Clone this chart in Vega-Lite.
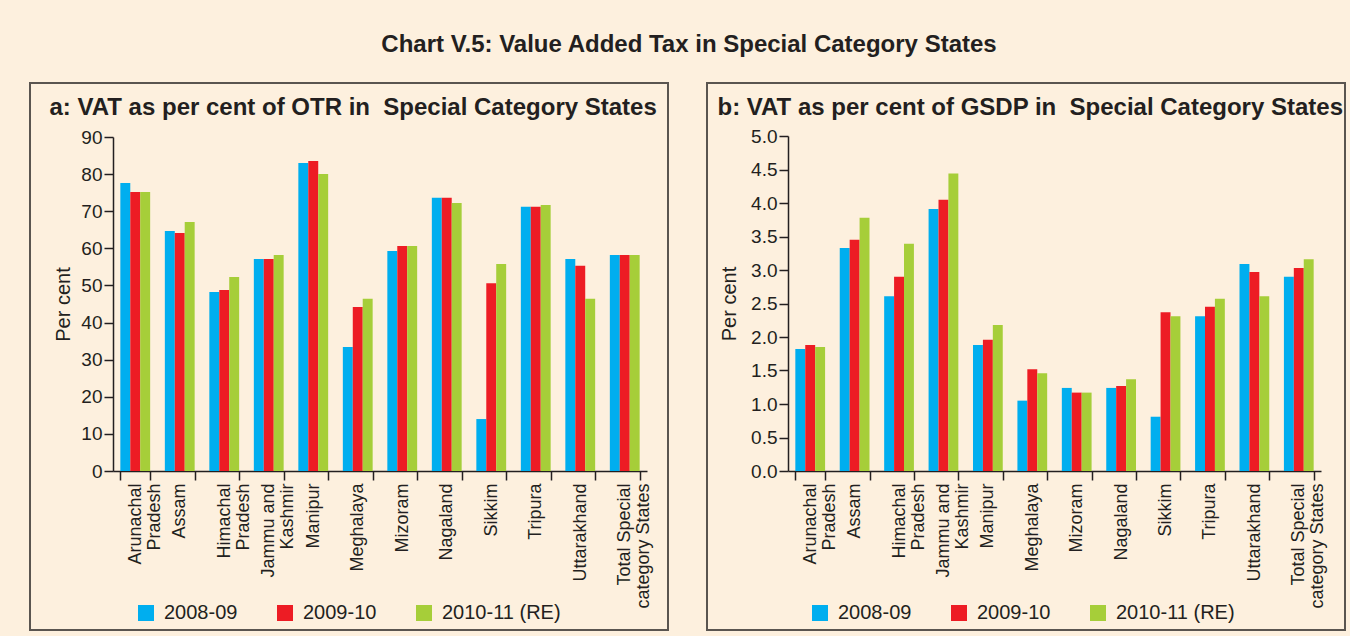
{
  "$schema": "https://vega.github.io/schema/vega-lite/v6.json",
  "background": "#fdf0de",
  "padding": {"left": 20, "top": 33, "right": 6, "bottom": 5},
  "title": {"text": "Chart V.5: Value Added Tax in Special Category States", "anchor": "middle", "dx": 6, "fontSize": 24, "fontWeight": "bold", "color": "#231f20", "baseline": "alphabetic", "offset": 6},
  "datasets": {
    "otr": [
      {"s": "Arunachal|Pradesh", "yr": "2008-09", "v": 77.6},
      {"s": "Arunachal|Pradesh", "yr": "2009-10", "v": 75.2},
      {"s": "Arunachal|Pradesh", "yr": "2010-11 (RE)", "v": 75.2},
      {"s": "Assam", "yr": "2008-09", "v": 64.7},
      {"s": "Assam", "yr": "2009-10", "v": 64.1},
      {"s": "Assam", "yr": "2010-11 (RE)", "v": 67.1},
      {"s": "Himachal|Pradesh", "yr": "2008-09", "v": 48.2},
      {"s": "Himachal|Pradesh", "yr": "2009-10", "v": 48.8},
      {"s": "Himachal|Pradesh", "yr": "2010-11 (RE)", "v": 52.3},
      {"s": "Jammu and|Kashmir", "yr": "2008-09", "v": 57.1},
      {"s": "Jammu and|Kashmir", "yr": "2009-10", "v": 57.1},
      {"s": "Jammu and|Kashmir", "yr": "2010-11 (RE)", "v": 58.2},
      {"s": "Manipur", "yr": "2008-09", "v": 83.0},
      {"s": "Manipur", "yr": "2009-10", "v": 83.5},
      {"s": "Manipur", "yr": "2010-11 (RE)", "v": 80.0},
      {"s": "Meghalaya", "yr": "2008-09", "v": 33.4},
      {"s": "Meghalaya", "yr": "2009-10", "v": 44.2},
      {"s": "Meghalaya", "yr": "2010-11 (RE)", "v": 46.4},
      {"s": "Mizoram", "yr": "2008-09", "v": 59.3},
      {"s": "Mizoram", "yr": "2009-10", "v": 60.6},
      {"s": "Mizoram", "yr": "2010-11 (RE)", "v": 60.6},
      {"s": "Nagaland", "yr": "2008-09", "v": 73.6},
      {"s": "Nagaland", "yr": "2009-10", "v": 73.6},
      {"s": "Nagaland", "yr": "2010-11 (RE)", "v": 72.2},
      {"s": "Sikkim", "yr": "2008-09", "v": 14.0},
      {"s": "Sikkim", "yr": "2009-10", "v": 50.6},
      {"s": "Sikkim", "yr": "2010-11 (RE)", "v": 55.8},
      {"s": "Tripura", "yr": "2008-09", "v": 71.2},
      {"s": "Tripura", "yr": "2009-10", "v": 71.2},
      {"s": "Tripura", "yr": "2010-11 (RE)", "v": 71.7},
      {"s": "Uttarakhand", "yr": "2008-09", "v": 57.1},
      {"s": "Uttarakhand", "yr": "2009-10", "v": 55.3},
      {"s": "Uttarakhand", "yr": "2010-11 (RE)", "v": 46.4},
      {"s": "Total Special|category States", "yr": "2008-09", "v": 58.2},
      {"s": "Total Special|category States", "yr": "2009-10", "v": 58.2},
      {"s": "Total Special|category States", "yr": "2010-11 (RE)", "v": 58.2}
    ],
    "gsdp": [
      {"s": "Arunachal|Pradesh", "yr": "2008-09", "v": 1.82},
      {"s": "Arunachal|Pradesh", "yr": "2009-10", "v": 1.88},
      {"s": "Arunachal|Pradesh", "yr": "2010-11 (RE)", "v": 1.85},
      {"s": "Assam", "yr": "2008-09", "v": 3.33},
      {"s": "Assam", "yr": "2009-10", "v": 3.45},
      {"s": "Assam", "yr": "2010-11 (RE)", "v": 3.78},
      {"s": "Himachal|Pradesh", "yr": "2008-09", "v": 2.61},
      {"s": "Himachal|Pradesh", "yr": "2009-10", "v": 2.90},
      {"s": "Himachal|Pradesh", "yr": "2010-11 (RE)", "v": 3.39},
      {"s": "Jammu and|Kashmir", "yr": "2008-09", "v": 3.91},
      {"s": "Jammu and|Kashmir", "yr": "2009-10", "v": 4.05},
      {"s": "Jammu and|Kashmir", "yr": "2010-11 (RE)", "v": 4.44},
      {"s": "Manipur", "yr": "2008-09", "v": 1.88},
      {"s": "Manipur", "yr": "2009-10", "v": 1.96},
      {"s": "Manipur", "yr": "2010-11 (RE)", "v": 2.18},
      {"s": "Meghalaya", "yr": "2008-09", "v": 1.05},
      {"s": "Meghalaya", "yr": "2009-10", "v": 1.52},
      {"s": "Meghalaya", "yr": "2010-11 (RE)", "v": 1.46},
      {"s": "Mizoram", "yr": "2008-09", "v": 1.24},
      {"s": "Mizoram", "yr": "2009-10", "v": 1.17},
      {"s": "Mizoram", "yr": "2010-11 (RE)", "v": 1.17},
      {"s": "Nagaland", "yr": "2008-09", "v": 1.24},
      {"s": "Nagaland", "yr": "2009-10", "v": 1.27},
      {"s": "Nagaland", "yr": "2010-11 (RE)", "v": 1.37},
      {"s": "Sikkim", "yr": "2008-09", "v": 0.81},
      {"s": "Sikkim", "yr": "2009-10", "v": 2.37},
      {"s": "Sikkim", "yr": "2010-11 (RE)", "v": 2.31},
      {"s": "Tripura", "yr": "2008-09", "v": 2.31},
      {"s": "Tripura", "yr": "2009-10", "v": 2.45},
      {"s": "Tripura", "yr": "2010-11 (RE)", "v": 2.57},
      {"s": "Uttarakhand", "yr": "2008-09", "v": 3.09},
      {"s": "Uttarakhand", "yr": "2009-10", "v": 2.97},
      {"s": "Uttarakhand", "yr": "2010-11 (RE)", "v": 2.61},
      {"s": "Total Special|category States", "yr": "2008-09", "v": 2.90},
      {"s": "Total Special|category States", "yr": "2009-10", "v": 3.03},
      {"s": "Total Special|category States", "yr": "2010-11 (RE)", "v": 3.16}
    ]
  },
  "spacing": 28,
  "hconcat": [
    {
      "data": {"name": "otr"},
      "width": 638,
      "height": 547,
      "mark": {"type": "bar"},
      "encoding": {
        "x": {"field": "s", "type": "nominal", "sort": null,
          "scale": {"range": [83, 617], "paddingInner": 0.33, "paddingOuter": 0.165},
          "axis": {"title": "a: VAT as per cent of OTR in \u00a0Special Category States", "titleX": 19, "titleY": -357, "offset": -159, "tickBand": "extent", "labelExpr": "split(datum.label, '|')"}},
        "xOffset": {"field": "yr", "type": "nominal", "scale": {"paddingInner": 0, "paddingOuter": 0}},
        "y": {"field": "v", "type": "quantitative",
          "scale": {"domain": [0, 90], "range": [388, 54], "nice": false, "zero": true},
          "axis": {"title": "Per cent", "offset": -83, "titlePadding": 7, "values": [0, 10, 20, 30, 40, 50, 60, 70, 80, 90]}},
        "color": {"field": "yr", "type": "nominal",
          "scale": {"domain": ["2008-09", "2009-10", "2010-11 (RE)"], "range": ["#00aeef", "#ed1c24", "#a6ce39"]},
          "legend": {"orient": "none", "legendX": 106, "legendY": 520, "direction": "horizontal", "title": null}}
      }
    },
    {
      "data": {"name": "gsdp"},
      "width": 638,
      "height": 547,
      "mark": {"type": "bar"},
      "encoding": {
        "x": {"field": "s", "type": "nominal", "sort": null,
          "scale": {"range": [81, 614], "paddingInner": 0.33, "paddingOuter": 0.165},
          "axis": {"title": "b: VAT as per cent of GSDP in \u00a0Special Category States", "titleX": 10, "titleY": -357, "offset": -159, "tickBand": "extent", "labelExpr": "split(datum.label, '|')"}},
        "xOffset": {"field": "yr", "type": "nominal", "scale": {"paddingInner": 0, "paddingOuter": 0}},
        "y": {"field": "v", "type": "quantitative",
          "scale": {"domain": [0, 5], "range": [388, 53], "nice": false, "zero": true},
          "axis": {"title": "Per cent", "offset": -81, "titlePadding": 11, "format": ".1f", "values": [0, 0.5, 1, 1.5, 2, 2.5, 3, 3.5, 4, 4.5, 5]}},
        "color": {"field": "yr", "type": "nominal",
          "scale": {"domain": ["2008-09", "2009-10", "2010-11 (RE)"], "range": ["#00aeef", "#ed1c24", "#a6ce39"]},
          "legend": {"orient": "none", "legendX": 103, "legendY": 520, "direction": "horizontal", "title": null}}
      }
    }
  ],
  "resolve": {
    "scale": {"x": "independent", "y": "independent", "xOffset": "independent", "color": "shared"},
    "legend": {"color": "independent"}
  },
  "config": {
    "font": "Liberation Sans",
    "view": {"stroke": "#5a5550", "strokeWidth": 2},
    "axis": {
      "domainColor": "#231f20", "domainWidth": 1.5, "tickColor": "#231f20", "tickWidth": 1.5,
      "labelColor": "#231f20", "titleColor": "#231f20", "grid": false, "labelFont": "Liberation Sans", "titleFont": "Liberation Sans"
    },
    "axisX": {"tickSize": 9, "labelAngle": -90, "labelFontSize": 18, "labelLineHeight": 19, "labelPadding": 3, "labelOverlap": false, "labelLimit": 300, "labelBound": false,
      "titleFontSize": 24, "titleFontWeight": "bold", "titleAlign": "left", "titleAnchor": "start", "titleBaseline": "alphabetic", "titleAngle": 0, "titleLimit": 700},
    "axisY": {"tickSize": 9, "labelFontSize": 19, "labelPadding": 2, "titleFontSize": 20, "titleFontWeight": "normal", "labelOverlap": false},
    "legend": {"symbolType": "square", "symbolSize": 256, "symbolStrokeWidth": 0, "labelFontSize": 20, "labelColor": "#231f20", "labelOffset": 8, "columnPadding": 37, "padding": 0, "labelFont": "Liberation Sans"},
    "title": {"font": "Liberation Sans"}
  }
}
